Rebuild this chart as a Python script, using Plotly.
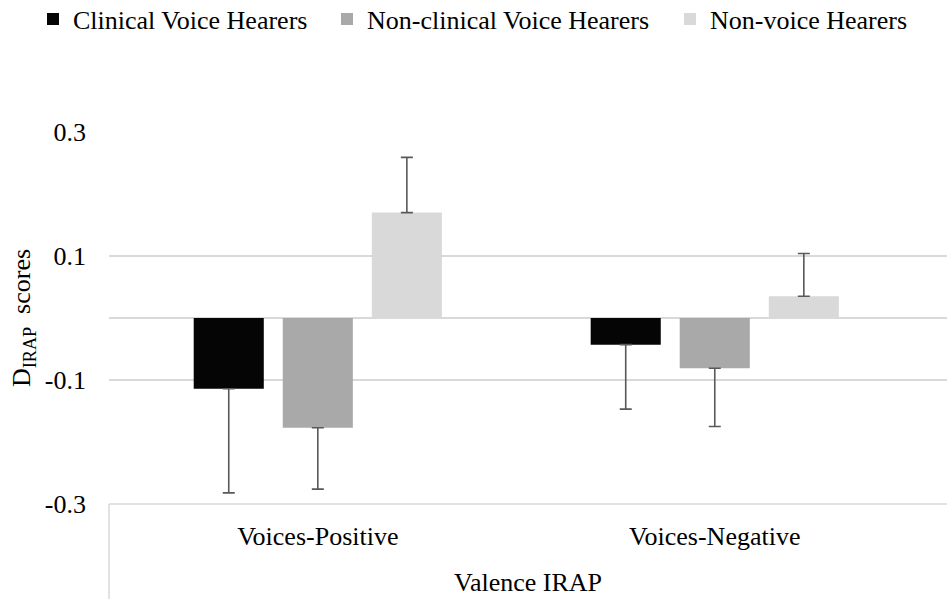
import plotly.graph_objects as go

categories = ["Voices-Positive", "Voices-Negative"]
series_names = ["Clinical Voice Hearers", "Non-clinical Voice Hearers", "Non-voice Hearers"]
clinical = [-0.114, -0.043]
clinical_err = [0.168, 0.104]
nonclinical = [-0.177, -0.081]
nonclinical_err = [0.099, 0.094]
nonvoice = [0.170, 0.035]
nonvoice_err = [0.089, 0.069]
y_ticks = [-0.3, -0.1, 0.1, 0.3]
y_ticktext = ["-0.3", "-0.1", "0.1", "0.3"]

colors = ["#050505", "#A9A9A9", "#D9D9D9"]
FONT = "Liberation Serif"
FS = 26
W, H = 947, 599

legend_ids = ["legend", "legend2", "legend3"]
legend_x_px = [33, 327, 670]

fig = go.Figure()
for name, vals, errs, col, lg in zip(series_names,
                                     [clinical, nonclinical, nonvoice],
                                     [clinical_err, nonclinical_err, nonvoice_err],
                                     colors, legend_ids):
    plus = [e if v >= 0 else 0 for v, e in zip(vals, errs)]
    minus = [e if v < 0 else 0 for v, e in zip(vals, errs)]
    fig.add_trace(go.Bar(
        x=categories, y=vals, name=name, legend=lg,
        marker=dict(color=col, line=dict(width=0)),
        error_y=dict(type="data", symmetric=False, array=plus, arrayminus=minus,
                     color="#595959", thickness=1.6, width=6),
    ))

legend_style = dict(orientation="h", xref="container", yref="container",
                    xanchor="left", yanchor="middle", y=1 - 19 / H,
                    bgcolor="rgba(0,0,0,0)",
                    font=dict(family=FONT, size=FS, color="#000000"))
fig.update_layout(
    width=W, height=H,
    margin=dict(l=109, r=0, t=132, b=95),
    paper_bgcolor="white", plot_bgcolor="white",
    barmode="group", bargap=0.327, bargroupgap=0.213,
    font=dict(family=FONT, size=FS, color="#000000"),
    legend=dict(x=legend_x_px[0] / W, **legend_style),
    legend2=dict(x=legend_x_px[1] / W, **legend_style),
    legend3=dict(x=legend_x_px[2] / W, **legend_style),
    showlegend=True,
)
fig.update_yaxes(
    range=[-0.3, 0.3], tickvals=y_ticks, ticktext=y_ticktext,
    showgrid=True, gridcolor="#D9D9D9", gridwidth=1.5,
    zeroline=True, zerolinecolor="#D9D9D9", zerolinewidth=1.5,
    showline=False, ticks="", ticklabelstandoff=22,
    tickfont=dict(family=FONT, size=FS, color="#000000"),
    title=dict(text="D<sub>IRAP</sub>  scores", standoff=6,
               font=dict(family=FONT, size=FS, color="#000000")),
)
fig.update_xaxes(
    range=[-0.526, 1.585], showgrid=False, zeroline=False, showline=False,
    ticks="outside", ticklen=9, tickcolor="rgba(0,0,0,0)",
    tickfont=dict(family=FONT, size=FS, color="#000000"),
    title=dict(text="Valence IRAP", standoff=22,
               font=dict(family=FONT, size=FS, color="#000000")),
)
# bottom category-axis box (Excel style)
fig.add_shape(type="line", xref="paper", yref="paper", x0=0, x1=1, y0=0, y1=0,
              line=dict(color="#D9D9D9", width=1.5), layer="below")
fig.add_shape(type="line", xref="paper", yref="paper", x0=0, x1=0, y0=0, y1=-0.3,
              line=dict(color="#D9D9D9", width=1.5), layer="below")

fig.write_html("out.html")
